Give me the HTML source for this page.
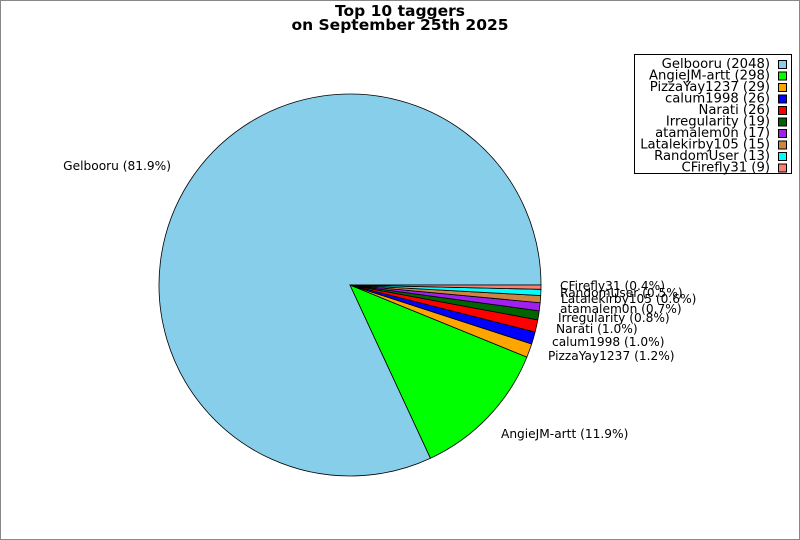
<!DOCTYPE html>
<html><head><meta charset="utf-8"><style>
body{margin:0;background:#fff}
svg{display:block;font-family:"DejaVu Sans","Liberation Sans",sans-serif}
</style></head><body>
<svg id="s" width="800" height="540" xmlns="http://www.w3.org/2000/svg">
<rect x="0.5" y="0.5" width="799" height="539" fill="#fff" stroke="#888"/>
<text x="400" y="16" text-anchor="middle" font-weight="bold" font-size="15.5">Top 10 taggers</text>
<text x="400" y="30" text-anchor="middle" font-weight="bold" font-size="15.5">on September 25th 2025</text>
<g id="pie"></g>
<g font-size="12.2" fill="#000">
<text x="171" y="170" text-anchor="end">Gelbooru (81.9%)</text>
<text x="501" y="438">AngieJM-artt (11.9%)</text>
<text x="548" y="360">PizzaYay1237 (1.2%)</text>
<text x="552" y="346">calum1998 (1.0%)</text>
<text x="556" y="333">Narati (1.0%)</text>
<text x="558" y="322">Irregularity (0.8%)</text>
<text x="560" y="313">atamalem0n (0.7%)</text>
<text x="561" y="303">Latalekirby105 (0.6%)</text>
<text x="560" y="297">RandomUser (0.5%)</text>
<text x="560" y="290">CFirefly31 (0.4%)</text>
</g>
<rect x="634.5" y="54.5" width="157" height="119" fill="#fff" stroke="#000"/>
<g id="leg" font-size="13.2" text-anchor="end">
<text x="770" y="68">Gelbooru (2048)</text>
<text x="770" y="79.5">AngieJM-artt (298)</text>
<text x="770" y="91">PizzaYay1237 (29)</text>
<text x="770" y="102.5">calum1998 (26)</text>
<text x="770" y="114">Narati (26)</text>
<text x="770" y="125.5">Irregularity (19)</text>
<text x="770" y="137">atamalem0n (17)</text>
<text x="770" y="148.5">Latalekirby105 (15)</text>
<text x="770" y="160">RandomUser (13)</text>
<text x="770" y="171.5">CFirefly31 (9)</text>
</g>
</svg>
<script>
var v=[2048,298,29,26,26,19,17,15,13,9];
var c=["#87ceeb","#00ff00","#ffa500","#0000ff","#ff0000","#006400","#a020f0","#cd853f","#00ffff","#fa8072"];
var cx=350,cy=285,r=191,a=0,ns="http://www.w3.org/2000/svg",g=document.getElementById("pie"),s=document.getElementById("s");
for(var i=0;i<v.length;i++){
 var b=a+v[i]/2500*2*Math.PI;
 var x1=cx+r*Math.cos(a),y1=cy-r*Math.sin(a),x2=cx+r*Math.cos(b),y2=cy-r*Math.sin(b);
 var p=document.createElementNS(ns,"path");
 p.setAttribute("d","M"+cx+","+cy+"L"+x1+","+y1+"A"+r+","+r+" 0 "+((b-a)>Math.PI?1:0)+" 0 "+x2+","+y2+"Z");
 p.setAttribute("fill",c[i]);p.setAttribute("stroke","#000");p.setAttribute("stroke-width","0.8");
 g.appendChild(p);
 var q=document.createElementNS(ns,"rect");
 q.setAttribute("x",778.5);q.setAttribute("y",60.5+i*11.5);q.setAttribute("width",8);q.setAttribute("height",8);
 q.setAttribute("fill",c[i]);q.setAttribute("stroke","#000");
 s.appendChild(q);
 a=b;
}
</script>
</body></html>
